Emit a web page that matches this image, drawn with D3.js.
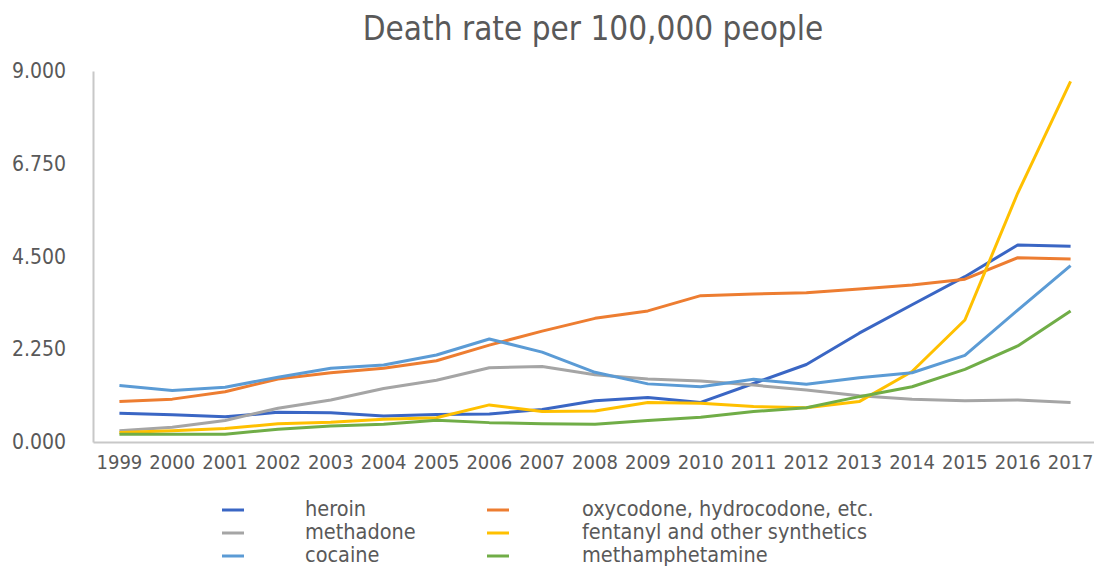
<!DOCTYPE html>
<html lang="en">
<head>
<meta charset="utf-8">
<title>Death rate per 100,000 people</title>
<script src="https://cdn.jsdelivr.net/npm/d3@7"></script>
<style>
  body { margin: 0; background: #fff; }
  svg text { font-family: "DejaVu Sans Condensed", "DejaVu Sans", sans-serif; fill: #595959; }
</style>
</head>
<body>
<script>
// years on the category axis
var years = ["1999","2000","2001","2002","2003","2004","2005","2006","2007","2008",
             "2009","2010","2011","2012","2013","2014","2015","2016","2017"];

// series values
var heroin     = [0.70,0.66,0.61,0.72,0.71,0.63,0.67,0.68,0.79,1.00,1.08,0.96,1.42,1.88,2.64,3.33,4.01,4.78,4.75];
var oxycodone  = [0.98,1.04,1.22,1.53,1.68,1.79,1.97,2.35,2.69,3.00,3.18,3.55,3.59,3.62,3.71,3.81,3.95,4.47,4.44];
var methadone  = [0.27,0.36,0.52,0.82,1.02,1.30,1.50,1.80,1.83,1.63,1.53,1.48,1.38,1.26,1.12,1.04,1.00,1.02,0.96];
var fentanyl   = [0.23,0.27,0.33,0.44,0.48,0.55,0.59,0.90,0.74,0.75,0.96,0.94,0.86,0.83,0.98,1.71,2.96,6.04,8.75];
var cocaine    = [1.37,1.25,1.33,1.57,1.79,1.87,2.11,2.50,2.18,1.69,1.41,1.34,1.52,1.40,1.56,1.68,2.10,3.20,4.28];
var meth       = [0.19,0.19,0.19,0.31,0.39,0.43,0.53,0.47,0.44,0.43,0.52,0.60,0.74,0.83,1.10,1.34,1.76,2.33,3.18];

var seriesNames = ["heroin","oxycodone, hydrocodone, etc.","methadone",
                   "fentanyl and other synthetics","cocaine","methamphetamine"];
var seriesValues = [heroin, oxycodone, methadone, fentanyl, cocaine, meth];
var seriesColors = ["#3A66C4","#ED7D31","#A5A5A5","#FFC000","#5B9BD5","#70AD47"];
var yTicks = [0, 2.25, 4.5, 6.75, 9];

var w = 1094, h = 569;

var svg = d3.select("body").append("svg")
    .attr("width", w)
    .attr("height", h);

var x = d3.scaleBand()
    .domain(years)
    .range([93, 1097])
    .padding(0);

var y = d3.scaleLinear()
    .domain([0, 9])
    .range([442, 71]);

// title
svg.append("text")
    .attr("x", 593)
    .attr("y", 40)
    .attr("text-anchor", "middle")
    .style("font-size", "33px")
    .text("Death rate per 100,000 people");

// y axis
var yAxis = svg.append("g")
    .attr("transform", "translate(93,0)")
    .call(d3.axisLeft(y).tickValues(yTicks).tickFormat(d3.format(".3f"))
        .tickSize(0).tickSizeOuter(0).tickPadding(27));
yAxis.select(".domain").attr("stroke", "#C8C8C8").attr("stroke-width", 2);
yAxis.selectAll("text").style("font-size", "21px");

// x axis
var xAxis = svg.append("g")
    .attr("transform", "translate(0,442)")
    .call(d3.axisBottom(x).tickSize(0).tickSizeOuter(0).tickPadding(13));
xAxis.select(".domain").attr("stroke", "#C8C8C8").attr("stroke-width", 2);
xAxis.selectAll("text").style("font-size", "20px");

//lines
var line = d3.line()
    .x(function(d, i) { return x(years[i]) + x.bandwidth() / 2; })
    .y(function(d) { return y(d); });

svg.selectAll("path.series")
    .data(seriesValues)
    .enter()
    .append("path")
    .attr("class", "series")
    .attr("fill", "none")
    .attr("stroke", function(d, i) { return seriesColors[i]; })
    .attr("stroke-width", 3)
    .attr("stroke-linejoin", "round")
    .attr("d", line);

// legend, two columns
var legend = svg.selectAll("g.legend")
    .data(seriesNames)
    .enter()
    .append("g")
    .attr("class", "legend")
    .attr("transform", function(d, i) {
        return "translate(" + (i % 2 === 0 ? 222 : 487) + "," + (510 + Math.floor(i / 2) * 23) + ")";
    });

legend.append("line")
    .attr("x1", 0).attr("x2", 22)
    .attr("stroke", function(d, i) { return seriesColors[i]; })
    .attr("stroke-width", 3);

legend.append("text")
    .attr("x", function(d, i) { return i % 2 === 0 ? 83 : 95; })
    .attr("dy", "0.3em")
    .style("font-size", "21.5px")
    .text(function(d) { return d; });
</script>
</body>
</html>
